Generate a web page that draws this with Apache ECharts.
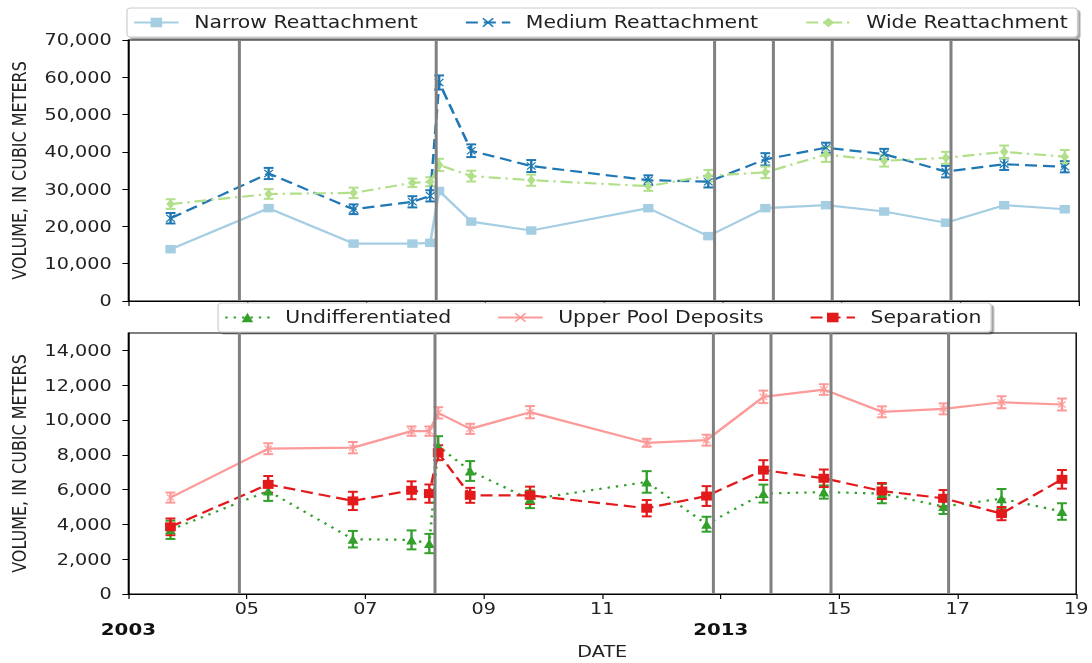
<!DOCTYPE html>
<html>
<head>
<meta charset="utf-8">
<script src="https://cdn.jsdelivr.net/npm/echarts@6/dist/echarts.min.js"></script>
<style>
html, body { margin: 0; padding: 0; background: #fff; overflow: hidden; }
/* the reference figure is stretched sideways, so draw narrower and stretch */
#chart { width: 910px; height: 663px; transform: scaleX(1.2); transform-origin: 0 0; }
</style>
</head>
<body>
<div id="chart"></div>
<script>
// survey dates (decimal years) and flood (HFE) dates
var dates = [2003.71, 2005.36, 2006.79, 2007.78, 2008.08, 2008.23, 2008.77, 2009.78,
             2011.75, 2012.76, 2013.72, 2014.74, 2015.72, 2016.76, 2017.74, 2018.76];
var floods = [2004.87, 2008.18, 2012.87, 2013.85, 2014.85, 2016.84];

// top panel
var narrow = [13900, 24900, 15400, 15400, 15600, 29500, 21300, 18900, 24900, 17400, 24900, 25700, 24000, 21000, 25700, 24600];
var narrowErr = [500, 600, 500, 500, 500, 700, 600, 500, 600, 500, 600, 600, 500, 500, 800, 500];
var medium = [22200, 34200, 24600, 26600, 28200, 58600, 40300, 36200, 32400, 32000, 38000, 41100, 39400, 34700, 36700, 36000];
var mediumErr = [1400, 1500, 1300, 1500, 1500, 1900, 1700, 1600, 1300, 1550, 1650, 1350, 1400, 1550, 1550, 1500];
var wide = [26000, 28700, 29000, 31700, 32000, 36500, 33500, 32400, 30800, 33600, 34500, 39300, 37600, 38400, 40000, 38700];
var wideErr = [1300, 1300, 1400, 1150, 1200, 1650, 1450, 1500, 1250, 1550, 1550, 2000, 1550, 1600, 1700, 1800];

// bottom panel
var undiff = [3690, 5920, 3150, 3110, 2900, 8500, 7070, 5440, 6440, 4010, 5770, 5860, 5770, 5030, 5480, 4740];
var undiffErr = [525, 570, 475, 545, 555, 570, 570, 505, 620, 430, 515, 380, 555, 430, 555, 475];
var upper = [5540, 8350, 8410, 9360, 9360, 10410, 9490, 10450, 8690, 8840, 11330, 11750, 10470, 10640, 11020, 10890];
var upperErr = [290, 315, 325, 270, 270, 325, 290, 350, 230, 315, 360, 305, 315, 315, 345, 345];
var separation = [3860, 6300, 5350, 5960, 5770, 8120, 5670, 5670, 4930, 5630, 7120, 6650, 5920, 5500, 4620, 6590];
var separationErr = [480, 480, 525, 515, 525, 430, 430, 500, 470, 570, 570, 505, 460, 475, 380, 535];

// ticks
var xTicks = [2003, 2005, 2007, 2009, 2011, 2013, 2015, 2017, 2019];
var boldYears = [2003, 2013];
var yTicksTop = [0, 10000, 20000, 30000, 40000, 50000, 60000, 70000];
var yTicksBottom = [0, 2000, 4000, 6000, 8000, 10000, 12000, 14000];

var FONT = 'DejaVu Sans';
var TXT = '#222';
var xPath = 'path://M0,1L1,0L5,4L9,0L10,1L6,5L10,9L9,10L5,6L1,10L0,9L4,5Z';

function lineSeries(name, vals, color, idx, dash, symbol, size) {
  return {
    name: name, type: 'line', xAxisIndex: idx, yAxisIndex: idx, z: 4,
    data: vals.map(function (v, i) { return [dates[i], v]; }),
    symbol: symbol, symbolSize: size, showAllSymbol: true,
    lineStyle: { color: color, width: 2.2, type: dash },
    itemStyle: { color: color },
    emphasis: { disabled: true }
  };
}

function errorSeries(name, vals, errs, color, idx) {
  return {
    name: name + ' err', type: 'custom', xAxisIndex: idx, yAxisIndex: idx, z: 3, silent: true,
    data: vals.map(function (v, i) { return [dates[i], v - errs[i], v + errs[i]]; }),
    renderItem: function (params, api) {
      var lo = api.coord([api.value(0), api.value(1)]);
      var hi = api.coord([api.value(0), api.value(2)]);
      var w = 4.1;
      var st = { stroke: color, lineWidth: 2 };
      return { type: 'group', children: [
        { type: 'line', shape: { x1: lo[0], y1: lo[1], x2: hi[0], y2: hi[1] }, style: st },
        { type: 'line', shape: { x1: lo[0] - w, y1: lo[1], x2: lo[0] + w, y2: lo[1] }, style: st },
        { type: 'line', shape: { x1: hi[0] - w, y1: hi[1], x2: hi[0] + w, y2: hi[1] }, style: st }
      ] };
    }
  };
}

function floodLines(idx) {
  return {
    type: 'line', xAxisIndex: idx, yAxisIndex: idx, data: [], z: 1, silent: true,
    markLine: {
      symbol: ['none', 'none'], silent: true, label: { show: false },
      lineStyle: { color: '#808080', width: 2.5, type: 'solid' },
      emphasis: { disabled: true },
      data: floods.map(function (f) { return { xAxis: f }; })
    }
  };
}

function yAxis(idx, max, interval, ticks) {
  return {
    type: 'value', gridIndex: idx, min: 0, max: max, interval: interval,
    name: 'VOLUME, IN CUBIC METERS', nameLocation: 'middle', nameRotate: 90, nameGap: 83,
    nameTextStyle: { fontFamily: FONT, fontSize: 16, color: TXT },
    axisLine: { show: true, lineStyle: { color: '#000', width: 1.2 } },
    axisTick: { show: true, length: 5, lineStyle: { color: '#000' }, customValues: ticks },
    axisLabel: {
      fontFamily: FONT, fontSize: 16, color: TXT, margin: 14, customValues: ticks,
      formatter: function (v) { return v.toLocaleString('en-US'); }
    },
    splitLine: { show: false }
  };
}

function xAxis(idx, labels) {
  return {
    type: 'value', gridIndex: idx, min: 2003, max: 2019, interval: 2,
    axisLine: { show: true, lineStyle: { color: '#000', width: 1.2 } },
    axisTick: { show: true, length: 5, lineStyle: { color: '#000' }, customValues: xTicks },
    axisLabel: {
      show: labels, customValues: xTicks, margin: 5, color: TXT,
      formatter: function (v) {
        var y = Math.round(v);
        if (boldYears.indexOf(y) >= 0) return '{a| }\n{b|' + y + '}';
        return '{a|' + String(y % 100).padStart(2, '0') + '}';
      },
      rich: {
        a: { fontFamily: FONT, fontSize: 16, color: TXT, lineHeight: 20 },
        b: { fontFamily: FONT, fontSize: 16.5, fontWeight: 'bold', color: '#111', lineHeight: 21 }
      }
    },
    name: labels ? 'DATE' : '', nameLocation: 'middle', nameGap: 50,
    nameTextStyle: { fontFamily: FONT, fontSize: 16, color: TXT },
    splitLine: { show: false }
  };
}

function legend(names, left, top, gap) {
  return {
    data: names, left: left, top: top, orient: 'horizontal', selectedMode: false,
    padding: [6, 8, 6, 5], itemWidth: 37, itemHeight: 12, itemGap: gap,
    textStyle: { fontFamily: FONT, fontSize: 17, color: TXT, padding: [0, 0, 0, 8] },
    backgroundColor: '#fff', borderColor: '#cccccc', borderWidth: 1, borderRadius: 3,
    shadowColor: 'rgba(0,0,0,0.35)', shadowOffsetX: 2, shadowOffsetY: 2, shadowBlur: 1
  };
}

var option = {
  backgroundColor: '#fff',
  animation: false,
  textStyle: { fontFamily: FONT },
  grid: [
    { left: 106.7, right: 10.8, top: 40, bottom: 362, show: true, borderColor: '#000', borderWidth: 1.2, backgroundColor: 'transparent' },
    { left: 106.7, right: 10.8, top: 333, bottom: 69, show: true, borderColor: '#000', borderWidth: 1.2, backgroundColor: 'transparent' }
  ],
  legend: [
    legend(['Narrow Reattachment', 'Medium Reattachment', 'Wide Reattachment'], 105.8, 8, 39),
    legend(['Undifferentiated', 'Upper Pool Deposits', 'Separation'], 181.7, 303, 38)
  ],
  xAxis: [xAxis(0, false), xAxis(1, true)],
  yAxis: [yAxis(0, 70000, 10000, yTicksTop), yAxis(1, 15000, 2000, yTicksBottom)],
  series: [
    floodLines(0),
    floodLines(1),
    errorSeries('Narrow Reattachment', narrow, narrowErr, '#a6cee3', 0),
    errorSeries('Medium Reattachment', medium, mediumErr, '#1f78b4', 0),
    errorSeries('Wide Reattachment', wide, wideErr, '#b2df8a', 0),
    lineSeries('Narrow Reattachment', narrow, '#a6cee3', 0, 'solid', 'rect', 8.5),
    lineSeries('Medium Reattachment', medium, '#1f78b4', 0, [10, 5], xPath, 8),
    lineSeries('Wide Reattachment', wide, '#b2df8a', 0, [10, 4, 2, 4], 'diamond', [7, 10]),
    errorSeries('Undifferentiated', undiff, undiffErr, '#33a02c', 1),
    errorSeries('Upper Pool Deposits', upper, upperErr, '#fb9a99', 1),
    errorSeries('Separation', separation, separationErr, '#e31a1c', 1),
    lineSeries('Undifferentiated', undiff, '#33a02c', 1, [2, 5], 'triangle', 9),
    lineSeries('Upper Pool Deposits', upper, '#fb9a99', 1, 'solid', xPath, 7),
    lineSeries('Separation', separation, '#e31a1c', 1, [10, 5], 'rect', 9)
  ]
};

var chart = echarts.init(document.getElementById('chart'), null, { renderer: 'svg' });
chart.setOption(option);
</script>
</body>
</html>
